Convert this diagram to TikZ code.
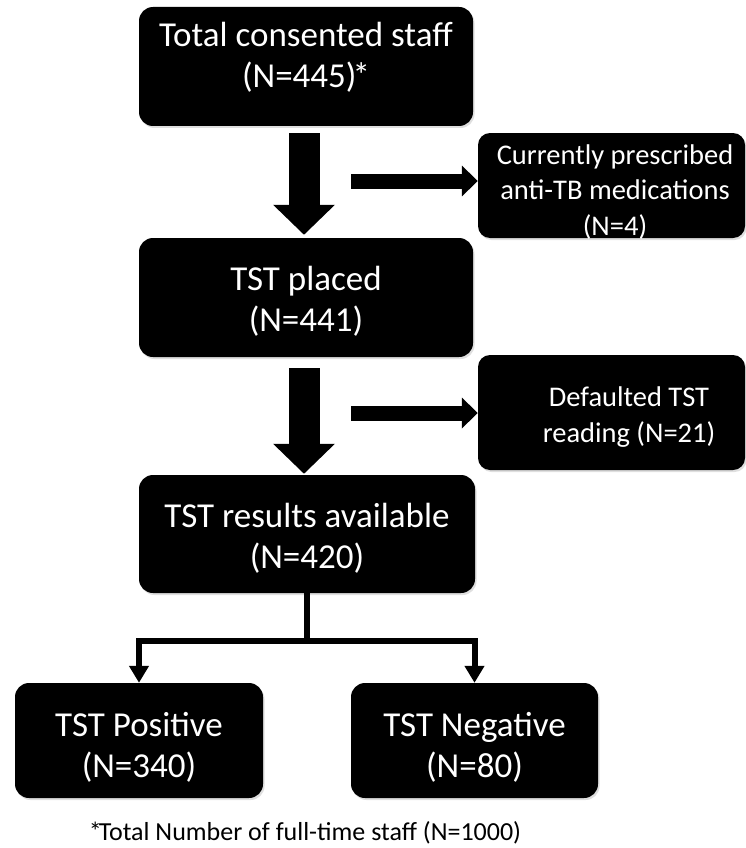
\documentclass[tikz,border=0pt]{standalone}
\usepackage{fontspec}
\setmainfont{Carlito}
\usetikzlibrary{arrows.meta,shadows,calc}
\begin{document}
\begin{tikzpicture}[x=1pt,y=-1pt,
  box/.style={fill=black, rounded corners=14pt, inner sep=0pt,
    drop shadow={opacity=0.25, shadow xshift=1.5pt, shadow yshift=-2pt}},
  bigtxt/.style={text=white, font=\fontsize{35}{41}\selectfont, align=center, anchor=base, inner sep=0pt},
  smalltxt/.style={text=white, font=\fontsize{28.5}{35.5}\selectfont, align=center, anchor=base, inner sep=0pt},
  bigarrow/.style={line width=31pt, -{Triangle[length=30pt,width=60pt]}},
  sidearrow/.style={line width=15pt, -{Triangle[length=16pt,width=30pt]}},
  splitarrow/.style={line width=6pt, -{Triangle[length=17pt,width=19pt]}}
]
\fill[white] (0,0) rectangle (746,848);
\useasboundingbox (0,0) rectangle (746,848);

% boxes
\node[box, minimum width=334pt, minimum height=119pt] (b1) at (306,66.5) {};
\node[box, minimum width=334pt, minimum height=119pt] (b2) at (306,297.5) {};
\node[box, minimum width=336pt, minimum height=118pt] (b3) at (307,534) {};
\node[box, minimum width=248pt, minimum height=115pt] (pos) at (139,740.5) {};
\node[box, minimum width=247pt, minimum height=115pt] (neg) at (474.5,740.5) {};
\node[box, rounded corners=12pt, minimum width=267pt, minimum height=105pt] (r1) at (611.5,185.5) {};
\node[box, rounded corners=12pt, minimum width=267pt, minimum height=115pt] (r2) at (611.5,412.5) {};

% texts (anchored at the baseline of the last line)
\node[bigtxt] (t1) at (306,88) {Total consented staff\\(N=445)\kern-4pt*};
\node[bigtxt] (t2) at (306,331) {TST placed\\(N=441)};
\node[bigtxt] (t3) at (307,568) {TST results available\\(N=420)};
\node[bigtxt] (tp) at (139,777) {TST Positive\\(N=340)};
\node[bigtxt] (tn) at (474.5,777) {TST Negative\\(N=80)};
\node[smalltxt] (tr1) at (615,235) {Currently prescribed\\anti-TB medications\\(N=4)};
\node[smalltxt] (tr2) at (629,442) {Defaulted TST\\reading (N=21)};
\node[anchor=base, inner sep=0pt, font=\fontsize{26}{30}\selectfont] (foot) at (305,840) {*\kern-3pt Total Number of full-time staff (N=1000)};

% big down arrows
\draw[bigarrow] ($(b1.south)+(-2,7)$) -- ($(b2.north)+(-2,-3)$);
\draw[bigarrow] ($(b2.south)+(-2,11)$) -- ($(b3.north)+(-3,-1)$);

% side arrows
\coordinate (s1) at (351,181);
\coordinate (s2) at (351,413);
\draw[sidearrow] (s1) -- (s1 -| r1.west);
\draw[sidearrow] (s2) -- (s2 -| r2.west);

% split
\coordinate (j) at (307,641);
\draw[line width=6pt] (b3.south) -- ($(j)+(0,3)$);
\draw[splitarrow] (j) -| (pos.north);
\draw[splitarrow] (j) -| (neg.north);
\end{tikzpicture}
\end{document}
